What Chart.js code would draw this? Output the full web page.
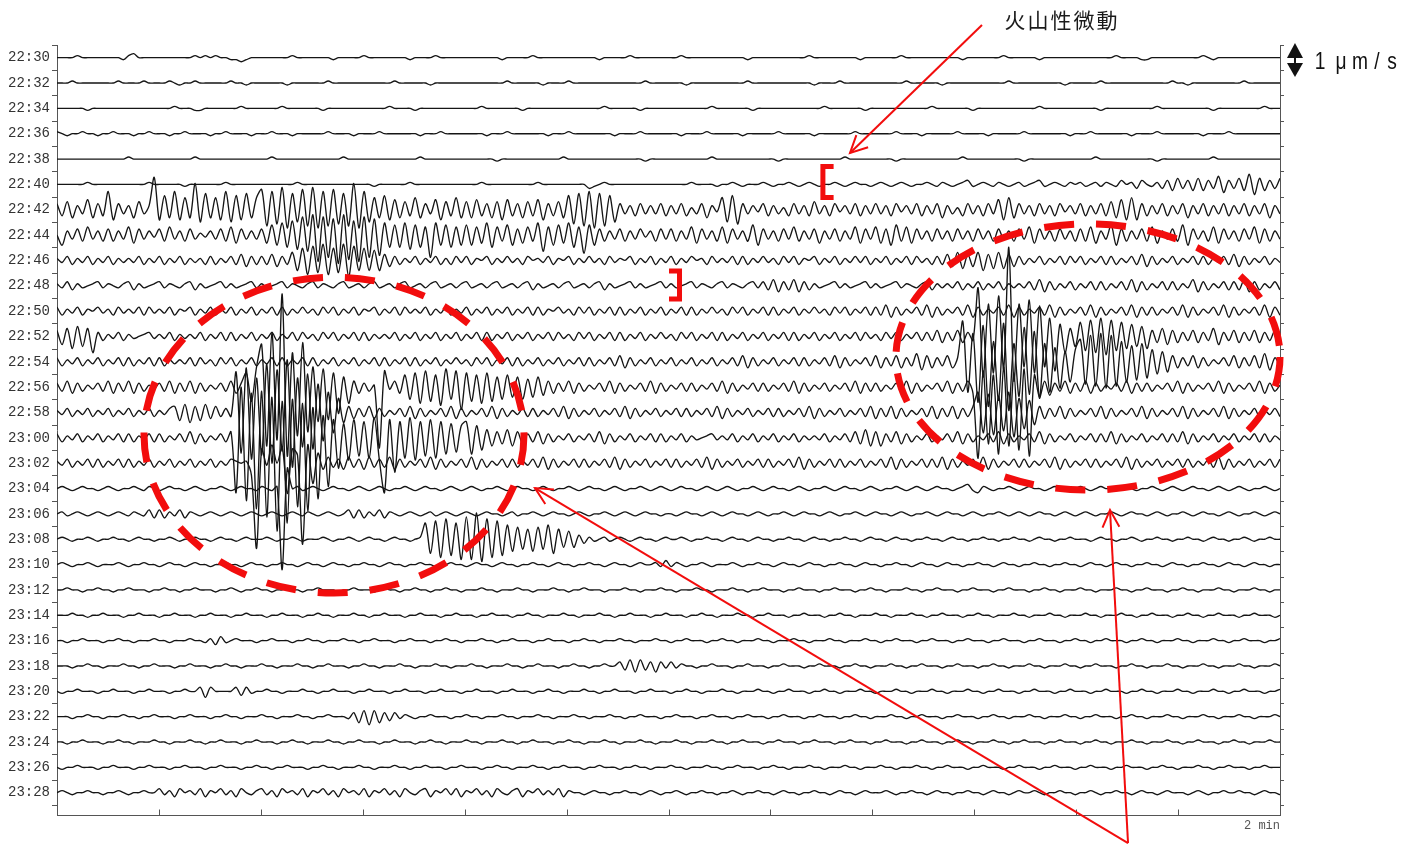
<!DOCTYPE html>
<html>
<head>
<meta charset="utf-8">
<title>火山性微動 — 22:30–23:30</title>
<script src="https://cdn.jsdelivr.net/npm/chart.js@4.4.1/dist/chart.umd.min.js"></script>
<style>
  html, body { margin: 0; padding: 0; background: #fff; }
  #wrap { width: 1413px; height: 847px; }
</style>
</head>
<body>
<div id="wrap"><canvas id="drum" width="1413" height="847"></canvas></div>
<script>
// ---- record layout -------------------------------------------------------
// one trace every 2 minutes, each trace spans 120 s
const TIME_LABELS = [
  '22:30','22:32','22:34','22:36','22:38','22:40','22:42','22:44','22:46','22:48',
  '22:50','22:52','22:54','22:56','22:58','23:00','23:02','23:04','23:06','23:08',
  '23:10','23:12','23:14','23:16','23:18','23:20','23:22','23:24','23:26','23:28'
];
const TRACE_SECONDS = 120;
const X_TICKS = [0, 10, 20, 30, 40, 50, 60, 70, 80, 90, 100, 110, 120];
const X_TICK_LABELS = { 120: '2 min' };

// amplitude units: counts (1 count = 0.06 µm/s)
const TRACE_GAP = 12.5;        // counts between neighbouring baselines
const COUNTS_PER_UMS = 16.75;  // 1 µm/s
const ZERO_CODE = 80;          // 'P' = 0, 'Q' = +1, 'O' = -1 ...

// ---- velocity samples, 0.5 s apart (one character per sample, +up) --------
const TRACES = [
  // 22:30
  'PPPPQPPPPP PPPOQRPPPP PPPPPPPQPQ PQPPOONOPP ' +
  'PPPPPPQPPP PPPPOPPPPP QPPPPPPPPO PPPPQPPPPP ' +
  'PPPPPPPOPP PPPQPPPPPP PPPPPPOPPP PPQPPPPPPP ' +
  'PPQPPPPPPP PPPPPOPPPP PPPPPPPQPP PPPPPPPOPP ' +
  'PPPPPQPPPP PPPPPPPOPP PPPPPQPPPP PPOPPPPPPP ' +
  'PPPPPPPQPP PPOOPPPPPP PPPPQPOPPP PPPPPPPPPP',
  // 22:32
  'PPPQPPPPPP PPQPPPPQPP PPQPOPPQPP PPPPQPPOPP ' +
  'PPPPPOPPPP PPPQPPPPPP PPPPPPQPPP PPPOPPPPPP ' +
  'PPPPPPPPQP PPPPPOPPPP QPPPPPPPPP PPPPPQPPPP ' +
  'PPPOPPPPPP PPPPPQPPPP PPPPPPPPOP PPPQPPPPPP ' +
  'PPPPPPQPPP PPPOPPPPPP PPPPPPQPPP PPPPPPPOPP ' +
  'PPPPQPPPPP PPPPPPPPQP POPPPPPPPP PPQPPPPPPP',
  // 22:34
  'PPPPPPOPPP PPPPPPPPPP PPPQPPPOOP PPPPPPQPPP ' +
  'PPPPQPPPPP PPOPPPPPPP PPPPPQPPPP OPPPPPPPPP ' +
  'PPPQPPPPPP POPPPPPPPP PPPPPPPQPP PPPPOPPPPP ' +
  'PPPPPPPPQP PPPPPPOPPP PPPPPPPPPP QPPPPPPPOP ' +
  'PPPPPPPPPP PQPPPPPPPO PPPPPPPPPP PPQPPPPPPP ' +
  'PPPPOPPPPP PPPPPQPPPP PPPPPPOPPP PPPPPPQPPP',
  // 22:36
  'QPOPPQPPOP PQPPPOPPQP PPOPPQPPPP OPPQPPPPOP ' +
  'PPQPPPOPPP PPPQPPPPOP PPPQPPPPPP POPPPQPPPP ' +
  'PPPPOPPPQP PPPPPPOPPP QPPPPPPPPO PPPPQPPPPP ' +
  'PPOPPPPQPP PPPPOPPPPP PQPPPPPPOP PPPPPPQPPP ' +
  'PPPPQPPPPO PPPPPPQPPP PPOPPPPPPQ PPPPPPPPOP ' +
  'PPQPPPPPPP OPPPPQPPPP PPPPOPPPPQ PPPPPPPPPP',
  // 22:38
  'PPPPPPPPPP PPPPQPPPPP PPPPPPPQPP PPPPPPPPPP ' +
  'PPQPPPPPPP PPPPPPQPPP PPPPPPPPPP PQPPPPPPPP ' +
  'PPPPPPOPPP PPPPPPPPPQ PPPPPPPPPP PPPPPOPPPP ' +
  'PPPPPPPPQP PPPPPPPPPP POPPPPPPPP PPPPQPPPPP ' +
  'PPPPOPPPPP PPPPPPPQPP PPPPPPPPPO PPPPPPPPPP ' +
  'PPPQPPPPPP PPPPPOPPPP PPPPPPQPPP PPPPPPPPPP',
  // 22:40
  'PPPPPPQPPP PPPPPPPPQP PPPPPOPPPP PPPQPPPPPP ' +
  'PPPPPPPQPP PPPPPPPPPP PPOPPPPPPQ PPPPPPPPPP ' +
  'PPPQPPPPPP PPPPQPPPPP PPPPNOPQPP PPPPPPPPPP ' +
  'PPPPQPPPPO PPQPOPPPQP OPPQPOPQPO PPQPOPQPPO ' +
  'PQPOPQPOPP QPOQPOPQRO PQPOQPOPQO PQROPQPOQP ' +
  'QOPQOQPORP QNRPOQNRMS NRMSMRNTLR NSMUKSMRNS',
  // 22:42
  'SMTLRNULSM YKSNRLTNR` KWLYKVL]JX LVKYJWKXLV ' +
  'ZHYI[GXJZH [GYHZIXH]G YJVLWKULTM VLSNUKTMVL ' +
  'TLUMSLTKUM SLTMUKSMTL WIXHYGXHWJ SNRMSNRNSM ' +
  'RNSMQNSLRO VJWISNROSM RNQMSNRMTN RMSORNSMRN ' +
  'SNRMSORNSM RNSLRNQMSN RMSNUKVLSN RMSNRMSORN ' +
  'SMRNSMTLUK VKSMRNSMRN SLRNSMRNSM RNSMRNSLRN',
  // 22:44
  'PKRNSMTNRM SMRNTLSNRO SMTNRMSNQO RNSMTLSNRN ' +
  'SLUKVJWIYH ZCYEXBZDWC YEXFVJUJVI UJTEVKUJTK ' +
  'UKTLVJTMUK SLTMVHTKUL VJTGUKSMRN SMRNSORMSN ' +
  'SMRNTLSNRM TLSNRMUKSN RMSNTMRNSL RNSMRNTLSN ' +
  'TLSKUMTLSN RMSNRMSNRM SNRMSNRMSN TLSNRMSNRM ' +
  'SMTLRNUKSM RNSMTLRNSM UKSNRMTLSN RMSNTLSMRN',
  // 22:46
  'QORNQORNQO RNQOQORNQO RNQORNQOQN RNQORNSMRN ' +
  'RNSMRNTKVI WJXIVJXHWK VKUKSMRNQO RNQORNQNRO ' +
  'RNQPRNQORO QNRPQORNQP RNQOROQNRO QPRNQORNQO ' +
  'RNQORPQNRO QORNRNQORO QNRORNQPRN QORNQORORN ' +
  'QORNQORNRO QNRNSMTLSM TKSLTLSMRN QORNQORNRO ' +
  'RNQORNRNQO RNSMRNQORN QORNRNQORN SMRNQORNQO',
  // 22:48
  'QORNQOPQRO QPOQRNQOPQ ROQPOQRNQO PQROQOPQRO ' +
  'QOPQROQPOQ ROQPOQROPQ OQROPQOQRO PQOQROPQOQ ' +
  'ROPQOQROPQ OQRNQOPQOQ ROPQOQRNQO PQROQOPQRO ' +
  'QOPQROQPOQ ROQPOQRORN SMRNSMRNQO PQROQOPQRO ' +
  'QOPQROQPOQ RNQOQORNQO RNQORNQOQO RNSMRNQORN ' +
  'QORNRNQORN SMRNQORNRN QOSMRNQORN RNSMRNQORN',
  // 22:50
  'RNQORNQPRO QNROQORNRO QORNQPRNQO RNQORNQORN ' +
  'QORNRNQORO QNRORNQORN QPRNQORNRO QORNQORNQO ' +
  'RNQORNQORN QORNRNQPRO QNRORNQORN RNQORNQORN ' +
  'QORNRNQORO QNRORNQORN RNQORNQORO QNRORNQORN ' +
  'RNSMRNQORN SMRNQORNSM RNQORNSMRN QORNSMRNQO ' +
  'RNSMRNQORN SMRNRNQORN SMRNQORNSM RNQORNSMRN',
  // 22:52
  'SLTJUKTHRN QORNQOPQRO QORNQOQORN QORNRNQORN ' +
  'QORNQORNRO QNRORNQORN RNQOQORNQO RNQORNQORN ' +
  'QORNRNQORN QORNQORNRO QNRORNQORN RNQORNQORO ' +
  'QNRORNQORN RNQORNQORN QORNRNQORN QORNQORNRO ' +
  'QNRORNQORN RNSMRNSMRN h<`>d@|:`A b>_AY?VHTK ' +
  'WIXHYGXIWJ VKUJSMTLSM RNSMRNTLRN SMRNSMRNSM',
  // 22:54
  'RNQORNQORN QORNRNQORN RNQOQORNRO QNRORNQORN ' +
  'QORNRNQORN RNQORNQORN QORNRNQORN RNQORNQORO ' +
  'QNRORNQORN RNQORNQORN QORNRNQORN SMRNQORNQO ' +
  'RNQORNQORN QORNSMRNQO RNQORNRNQO RNSMRNQORN ' +
  'SMRNSMRNTL SMRNSMRdA^ <b:Z=c8Y?a @_>YAWCUFV ' +
  '[E]D^C]DZF XGYHVJUKSM RNSMRNQORN SMRNSMTLRN',
  // 22:56
  'RNSMRNQORN SMRNSMRNQO RNSMRNSMRN QORNSMRWIZ ' +
  'e3k6~.a8f: Z?Y@WCUHSM RNQ2XOSMVJ WHXIVGYJXE ' +
  'WIVHWIUJVK UJTKULSMRN SMRNQORNSM RNQORNSMRN ' +
  'QORNRNQORN SMRNQORNRN QORNSMRNQO RNQORNSMRN ' +
  'RNQORNSMRN QORNSMRNSM -X4V/Z3W1Y .VKSLRNSMR ' +
  'NSMRNQORNS MRNRNQORNS MRNQORNSMR NQORNSMRNQ',
  // 22:58
  'QORNQORNQO RNQORNQORN QORSLTKSLT MSNRNd<f9a ' +
  ';h7e=j5a?c >^BZFWKSMR NSMRNQORNS MRNQORNSMR ' +
  'NQORNSMRNQ ORNRNQORNS MRNQORNQOR NSMRNQORNQ ' +
  'ORNRNQORNS MRNQORNQOR NRNQORNSMR NQORNQORNS ' +
  'MRNSMRNQOR NSMRNSMRNS ZFYEXGZDWH VJSMRNSMRN ' +
  'QORNSMRNQO RNSMRNQORN SMRNQORNSM RNQORNQORN',
  // 23:00
  'RNQORNQORN QORNRNQORN RNQORNSMRN QORNS5i1f- ' +
  'g)d"b&c.a, _2[8YAWEYG XFZE5Y?XFZ EXGYFXHWIV ' +
  'XHVJTLSMTL SMRNSMRNQO RNQORNSMRN QORNQORNRN ' +
  'QORNQOPQRO QORNQORNQO RNQORNQOQO RNQORNSMTL ' +
  'SLRNSMRNQO RNQORNSMRN QORNSMRNQO RNSMRNQORN ' +
  'QORNRNSMRN QORNQORNRN SMRNQORNQO RNQORNRNQO',
  // 23:02
  'QORNQORNRN QORNRNQORN QORNQORNQO RNQORQPQJ& ' +
  'WOYPXAWT(Y FUMSNRMSNR MSNRNSMRNQ ORNSMRNQOR ' +
  'NSMRNQORNR NQORNSMRNQ ORNRNQORNS MRNQORNQOR ' +
  'NRNQORNSMR NQORNQORNR NQORNSMRNQ ORNRNQORNQ ' +
  'ORNSMRNQOR NRNSMRNQOR NSMRNQORNR NQORNSMRNQ ' +
  'ORNRNQORNS MRNQORNQOR NRNQORNSMR NQORNQORNR',
  // 23:04
  'PQPOPQPPOP QPOPPQPOQP OPQPPOPQPO PPQPOPQPPO ' +
  'QPOQ(ZPQOP QPOPQPPOPQ POPQPOPPQP OPQPPOPQPO ' +
  'PQPOPPQPOP QPPOPQPOPP QPOPQPPOPQ POPPQPOPQP ' +
  'OPQPPOPQPO PQPOPPQPOP QPPOPQPOPP QPOPQPPOPQ ' +
  'POPPQPOPQP OPQPPOPQRO NQPOPPQPOP QPPOPQPOPP ' +
  'QPOPQPPOPQ POPPQPOPQP OPQPPOPQPO PQPOPPQPOP',
  // 23:06
  'PQOPQPOPQP OPQPOQPORN RNQORNQPOP QPOPQPOPQP ' +
  'OPQPOPQPOQ POPQPOPRNR NQORNQPOPQ POPQOPQPOP ' +
  'QPOPQPPOPQ OPPQPOPQPP OPQPOPPQPO PQPOPQPPOP ' +
  'POPQPPOPQP OPQPPOPQPO PPQPOPQPPO PQPOPPQPOP ' +
  'QPPOPQPOPP QPOPQPPOPQ POPPQPOPQP OPQPPOPQPO ' +
  'PQPOPPQPOP QPPOPQPOPP QPOPQPPOPQ POPPQPOPQP',
  // 23:08
  'PQPOPPQPOP PQPPOPQPPO PPQPOPPQPP OPQPPOPQPP ' +
  'PQPOPPQPOP PPQPOPPQPO PQPPOPQPPO PQXIYGZHXF ' +
  '[F]EZGYHWJ VKUJVKWIUL TLRNQOPQOP QPOPQPPOPQ ' +
  'PPQPOPPQPP OPQPPOPQPP OPPQPPOPQP POPPQPPOPQ ' +
  'PPOPQPPOPP QPPOPQPPOP PQPPOPPQPP OPQPPOPPQP ' +
  'PPOPQPPOPP QPOPPQPPOP PQPPOPQPPO PPQPOPPQPP',
  // 23:10
  'PQPOPPQPOP PPQPOPPQPP OPQPPOPQPP OPPQPPOPQP ' +
  'POPPQPPOPQ PPOPQPPOPP QPPOPQPPOP PQPPOPPQPP ' +
  'OPQPPOPQPP OPPQPPOPQP POPPQPPOPQ PPOPQPPQOR ' +
  'OQPOPPQPOP PPQPOPPQPP OPQPPOPQPP OPPQPPOPQP ' +
  'POPPQPPOPQ PPOPQPPOPP QPPOPQPPOP PQPPOPPQPP ' +
  'OPQPPOPQPP OPPQPPOPQP POPPQPPOPQ PPOPQPPOPP',
  // 23:12
  'PPQPPOPPQP POPPQPPPOP PQPPOPPQPP POPPQPOPPQ ' +
  'PPOPPQPPOP PQPPPOPPQP PPOPQPPOPP QPPOPPQPPO ' +
  'PPPQPPOPPP QPPOPPPQPP OPPQPPPOPP PQPPOPPPQP ' +
  'POPPPQPPOP PPQPPOPPQP PPOPPQPPPO PPQPPPOPPQ ' +
  'PPOPPPQPPO PPQPPPOPPQ PPPOPPQPPP OPPQPPOPPP ' +
  'QPPOPPPQPP OPPQPPPOPP QPPOPPPQPP OPPPQPPOPP',
  // 23:14
  'PPPQPPOPPQ PPPOPPQPPP OPPQPPPOPP QPPPOPPQPP ' +
  'POPPQPPPOP PQPPOPPPQP POPPQPPPOP PQPPPOPPQP ' +
  'PPOPPQPPPO PPQPPOPPPQ PPOPPPQPPO PPQPPPOPPQ ' +
  'PPPOPPQPPO PPPQPPOPPQ PPPOPPQPPP OPPQPPOPPP ' +
  'QPPOPPPQPP OPPQPPPOPP QPPOPPPQPP OPPPQPPOPP ' +
  'PQPPOPPPQP POPPQPPPOP PQPPOPPQPP POPPQPPPOP',
  // 23:16
  'PPOPPQPPPO PPQPPOPPPQ PPOPPPQPPO QNROPQPPPO ' +
  'PPQPPPOPPQ PPOPPPQPPO PPQPPPOPPQ PPPOPPQPPO ' +
  'PPPQPPOPPQ PPPOPPQPPP OPPQPPOPPP QPPOPPPQPP ' +
  'OPPQPPPOPP QPPOPPPQPP OPPPQPPOPP PQPPOPPPQP ' +
  'POPPQPPPOP PQPPPOPPQP PPOPPQPPPO PPQPPPOPPQ ' +
  'PPOPPQPPPO PPQPPOPPPQ PPOPPPQPPO PPQPPPOPPQ',
  // 23:18
  'PPPOPPQPPO PPPQPPOPPQ PPPOPPQPPP OPPQPPOPPP ' +
  'QPPOPPPQPP OPPQPPPOPP QPPOPPPQPP OPPPQPPOPP ' +
  'PQPPOPPPQP POPPQPPPOP PQPPOPPQPP RNSMSNRMRO ' +
  'ROQPPOPPQP PPOPPQPPPO PPQPPPOPPQ PPPOPPQPPO ' +
  'PPPQPPOPPQ PPPOPPQPPP OPPQPPOPPP QPPOPPPQPP ' +
  'OPPQPPPOPP QPPOPPPQPP OPPPQPPOPP PQPPOPPPQP',
  // 23:20
  'POPPQPPPOP PQPPPOPPQP PPOPPQPPRM RPPPPRNROP ' +
  'PQPPOPPPQP POPPQPPPOP PQPPPOPPQP PPOPPQPPPO ' +
  'PPQPPPOPPQ PPPOPPQPPO PPPQPPOPPQ PPPOPPQPPP ' +
  'OPPQPPOPPP QPPOPPPQPP OPPQPPPOPP QPPOPPPQPP ' +
  'OPPPQPPOPP PQPPOPPPQP POPPQPPPOP PQPPPOPPQP ' +
  'PPOPPQPPPO PPQPPOPPPQ PPOPPPQPPO PPQPPPOPPQ',
  // 23:22
  'PPPOPPQPPO PPPQPPOPPQ PPPOPPQPPP OPPQPPOPPP ' +
  'QPPOPPPQPP OPPQPPPORM SLSMRNROQP OPPQPPPOPP ' +
  'QPPOPPPQPP OPPPQPPOPP PQPPOPPPQP POPPQPPPOP ' +
  'PQPPPOPPQP PPOPPQPPPO PPQPPPOPPQ PPPOPPQPPO ' +
  'PPPQPPOPPQ PPPOPPQPPP OPPQPPOPPP QPPOPPPQPP ' +
  'OPPQPPPOPP QPPOPPPQPP OPPPQPPOPP PQPPOPPPQP',
  // 23:24
  'PPOPPQPPPO PPQPPOPPPQ PPOPPPQPPO PPQPPPOPPQ ' +
  'PPPOPPQPPO PPPQPPOPPQ PPPOPPQPPP OPPQPPOPPP ' +
  'QPPOPPPQPP OPPQPPPOPP QPPOPPPQPP OPPPQPPOPP ' +
  'PQPPOPPPQP POPPQPPPOP PQPPPOPPQP PPOPPQPPPO ' +
  'PPQPPPOPPQ PPPOPPQPPO PPPQPPOPPQ PPPOPPQPPP ' +
  'OPPQPPOPPP QPPOPPPQPP OPPQPPPOPP QPPOPPPQPP',
  // 23:26
  'POPPQPPPOP PQPPPOPPQP PPOPPQPPPO PPQPPPOPPQ ' +
  'PPOPPQPPPO PPQPPOPPPQ PPOPPPQPPO PPQPPPOPPQ ' +
  'PPPOPPQPPO PPPQPPOPPQ PPPOPPQPPP OPPQPPOPPP ' +
  'QPPOPPPQPP OPPQPPPOPP QPPOPPPQPP OPPPQPPOPP ' +
  'PQPPOPPPQP POPPQPPPOP PQPPPOPPQP PPOPPQPPPO ' +
  'PPQPPPOPPQ PPPOPPQPPO PPPQPPOPPQ PPPOPPQPPP',
  // 23:28
  'PQPOPPQPPO PPQPOPPQPP ROQNRPQORN QPROQNRPOQ ' +
  'ROQNRPQORN QPROQNRPQO RNQPROQNRP OQRNQPRORN ' +
  'QPROQNRPOQ RNQPROQORN QPPOPQPPOP PQPPOPQPOP ' +
  'PQPOPPQPPO PPQPOPPQPP OPQPPOPPQP POPQPPOPQP ' +
  'PPQPOPPQPP OPQPPOPPQP POPQPPOPQP PQPOPPQPPO ' +
  'PPQPOPPQPP OPQPPOPQPP POPQPOPPQP PQPPOPQPPO'
];

// ---- overlay notes, in record coordinates (seconds, trace row) -----------
const NOTE = { text: '火山性微動', t: 98.6, row: -1.49 };
const NOTE_ARROW = { from: { t: 90.76, row: -1.29 }, to: { t: 77.81, row: 3.76 } };
const BRACKETS = [
  { spine: 75.15, tip: 76.2, top: 4.2, bottom: 5.62 },
  { spine: 61.08, tip: 60.05, top: 8.32, bottom: 9.62 }
];
const EVENT_RINGS = [
  { t: 27.18, row: 14.89, rt: 18.64, rrow: 6.23 },
  { t: 101.16, row: 11.81, rt: 18.84, rrow: 5.25 }
];
const EVENT_POINTER = {
  from: { t: 105.09, row: 30.99 },
  to: [ { t: 46.9, row: 16.98 }, { t: 103.32, row: 17.85 } ]
};
const SCALE_BAR = { t: 121.47, row: 0.09, label: ['1', 'μ', 'm', '/', 's'] };

const RED = '#f20d0d';

function decodeTrace(str) {
  const out = [];
  for (const ch of str) {
    if (ch === ' ') continue;
    out.push(ch.charCodeAt(0) - ZERO_CODE);
  }
  return out;
}

const datasets = TRACES.map((str, row) => {
  const vals = decodeTrace(str);
  const dt = TRACE_SECONDS / (vals.length - 1);
  return {
    label: TIME_LABELS[row],
    data: vals.map((v, i) => ({ x: i * dt, y: row - v / TRACE_GAP })),
    borderColor: '#151515',
    borderWidth: 1.35,
    borderJoinStyle: 'round',
    pointRadius: 0,
    tension: 0.3,
    fill: false,
    yAxisID: 'y'
  };
});

const rowTicks = [];
for (let v = -0.5; v <= TIME_LABELS.length - 0.5; v += 0.5) rowTicks.push({ value: v });

const isRow = c => c.tick && Number.isInteger(c.tick.value);

function arrowHead(ctx, x0, y0, x1, y1, len, ang) {
  const a = Math.atan2(y0 - y1, x0 - x1);
  ctx.beginPath();
  ctx.moveTo(x1 + len * Math.cos(a + ang), y1 + len * Math.sin(a + ang));
  ctx.lineTo(x1, y1);
  ctx.lineTo(x1 + len * Math.cos(a - ang), y1 + len * Math.sin(a - ang));
  ctx.stroke();
}

const recordMarks = {
  id: 'recordMarks',
  beforeDraw(chart) {
    const { ctx, width, height } = chart;
    ctx.save();
    ctx.fillStyle = '#fff';
    ctx.fillRect(0, 0, width, height);
    ctx.restore();
  },
  afterDraw(chart) {
    const { ctx, scales: { x, y } } = chart;
    const px = t => x.getPixelForValue(t);
    const py = r => y.getPixelForValue(r);
    ctx.save();

    // time ticks on the base line, pointing up into the record
    ctx.strokeStyle = '#555';
    ctx.lineWidth = 1;
    const base = Math.round(y.bottom) + 0.5;
    X_TICKS.forEach(t => {
      const xx = Math.round(px(t)) + 0.5;
      ctx.beginPath();
      ctx.moveTo(xx, base);
      ctx.lineTo(xx, base - 6);
      ctx.stroke();
    });

    // amplitude scale: 1 µm/s double arrow
    const sx = px(SCALE_BAR.t);
    const half = (COUNTS_PER_UMS / TRACE_GAP) / 2;
    const yTop = py(SCALE_BAR.row - half), yBot = py(SCALE_BAR.row + half);
    const yMid = (yTop + yBot) / 2;
    ctx.fillStyle = '#111';
    ctx.beginPath();
    ctx.moveTo(sx, yTop); ctx.lineTo(sx + 8, yMid - 2); ctx.lineTo(sx - 8, yMid - 2); ctx.closePath();
    ctx.fill();
    ctx.beginPath();
    ctx.moveTo(sx, yBot); ctx.lineTo(sx + 8, yMid + 3); ctx.lineTo(sx - 8, yMid + 3); ctx.closePath();
    ctx.fill();
    ctx.fillRect(sx - 1, yMid - 3, 2, 6);
    ctx.font = '24px "Liberation Sans", Arial, sans-serif';
    ctx.textAlign = 'center';
    ctx.textBaseline = 'alphabetic';
    const offsets = [25, 46, 65, 82, 97];
    SCALE_BAR.label.forEach((ch, i) => {
      ctx.save();
      ctx.translate(sx + offsets[i], yMid + 9);
      ctx.scale(0.8, 1);
      ctx.fillText(ch, 0, 0);
      ctx.restore();
    });

    // note text
    ctx.fillStyle = '#1a1a1a';
    ctx.font = '21px "Noto Sans CJK JP", sans-serif';
    ctx.textBaseline = 'middle';
    if ('letterSpacing' in ctx) ctx.letterSpacing = '2px';
    ctx.fillText(NOTE.text, px(NOTE.t), py(NOTE.row));
    if ('letterSpacing' in ctx) ctx.letterSpacing = '0px';

    // red overlays
    ctx.strokeStyle = RED;
    ctx.lineCap = 'butt';

    // pointer to the tremor
    ctx.lineWidth = 2;
    const a0 = { x: px(NOTE_ARROW.from.t), y: py(NOTE_ARROW.from.row) };
    const a1 = { x: px(NOTE_ARROW.to.t), y: py(NOTE_ARROW.to.row) };
    ctx.beginPath(); ctx.moveTo(a0.x, a0.y); ctx.lineTo(a1.x, a1.y); ctx.stroke();
    arrowHead(ctx, a0.x, a0.y, a1.x, a1.y, 19, 0.46);

    // brackets marking the tremor onset / end
    ctx.lineWidth = 5;
    ctx.lineJoin = 'miter';
    BRACKETS.forEach(b => {
      const s = px(b.spine), tp = px(b.tip);
      const t0 = py(b.top), t1 = py(b.bottom);
      ctx.beginPath();
      ctx.moveTo(tp, t0 + 2.5);
      ctx.lineTo(s, t0 + 2.5);
      ctx.lineTo(s, t1 - 2.5);
      ctx.lineTo(tp, t1 - 2.5);
      ctx.stroke();
    });

    // dashed rings round the earthquakes
    ctx.lineWidth = 7;
    ctx.setLineDash([30, 22]);
    EVENT_RINGS.forEach(e => {
      const cx = px(e.t), cy = py(e.row);
      const rx = px(e.t + e.rt) - cx, ry = py(e.row + e.rrow) - cy;
      ctx.beginPath();
      ctx.ellipse(cx, cy, rx, ry, 0, 0, Math.PI * 2);
      ctx.stroke();
    });
    ctx.setLineDash([]);

    // pointers to the earthquakes
    ctx.lineWidth = 2;
    const b0 = { x: px(EVENT_POINTER.from.t), y: py(EVENT_POINTER.from.row) };
    EVENT_POINTER.to.forEach(p => {
      const b1 = { x: px(p.t), y: py(p.row) };
      ctx.beginPath(); ctx.moveTo(b0.x, b0.y); ctx.lineTo(b1.x, b1.y); ctx.stroke();
      arrowHead(ctx, b0.x, b0.y, b1.x, b1.y, 19, 0.46);
    });

    ctx.restore();
  }
};

const yCommon = {
  type: 'linear',
  reverse: true,
  min: -0.5,
  max: 29.88,
  afterBuildTicks: s => { s.ticks = rowTicks.map(t => ({ value: t.value })); },
  border: { display: true, color: '#555', width: 1 }
};

new Chart(document.getElementById('drum'), {
  type: 'line',
  data: { datasets },
  plugins: [recordMarks],
  options: {
    responsive: false,
    animation: false,
    devicePixelRatio: 1,
    parsing: false,
    layout: { padding: { top: 45, left: 0, right: 0, bottom: 0 } },
    plugins: { legend: { display: false }, tooltip: { enabled: false } },
    scales: {
      x: {
        type: 'linear',
        position: 'bottom',
        min: 0,
        max: TRACE_SECONDS,
        afterBuildTicks: s => { s.ticks = X_TICKS.map(v => ({ value: v })); },
        afterFit: s => { s.height = 32; },
        grid: { display: false, drawTicks: false },
        border: { display: true, color: '#555', width: 1 },
        ticks: {
          autoSkip: false,
          maxRotation: 0,
          align: 'end',
          padding: 4,
          color: '#555',
          font: { family: 'Liberation Mono', size: 12 },
          callback: v => X_TICK_LABELS[v] || ''
        }
      },
      y: Object.assign({}, yCommon, {
        position: 'left',
        afterFit: s => { s.width = 57; },
        grid: {
          display: true, drawOnChartArea: false, drawTicks: true, tickLength: 5,
          tickColor: c => isRow(c) ? 'rgba(0,0,0,0)' : '#555', tickWidth: 1
        },
        ticks: {
          autoSkip: false,
          padding: 2,
          color: '#333',
          font: { family: 'Liberation Mono', size: 14 },
          callback: v => (Number.isInteger(v) && TIME_LABELS[v]) ? TIME_LABELS[v] : ''
        }
      }),
      yR: Object.assign({}, yCommon, {
        position: 'right',
        afterFit: s => { s.width = 133; },
        grid: {
          display: true, drawOnChartArea: false, drawTicks: true, tickLength: 4,
          tickColor: c => isRow(c) ? 'rgba(0,0,0,0)' : '#555', tickWidth: 1
        },
        ticks: { display: false }
      })
    }
  }
});
</script>
</body>
</html>
